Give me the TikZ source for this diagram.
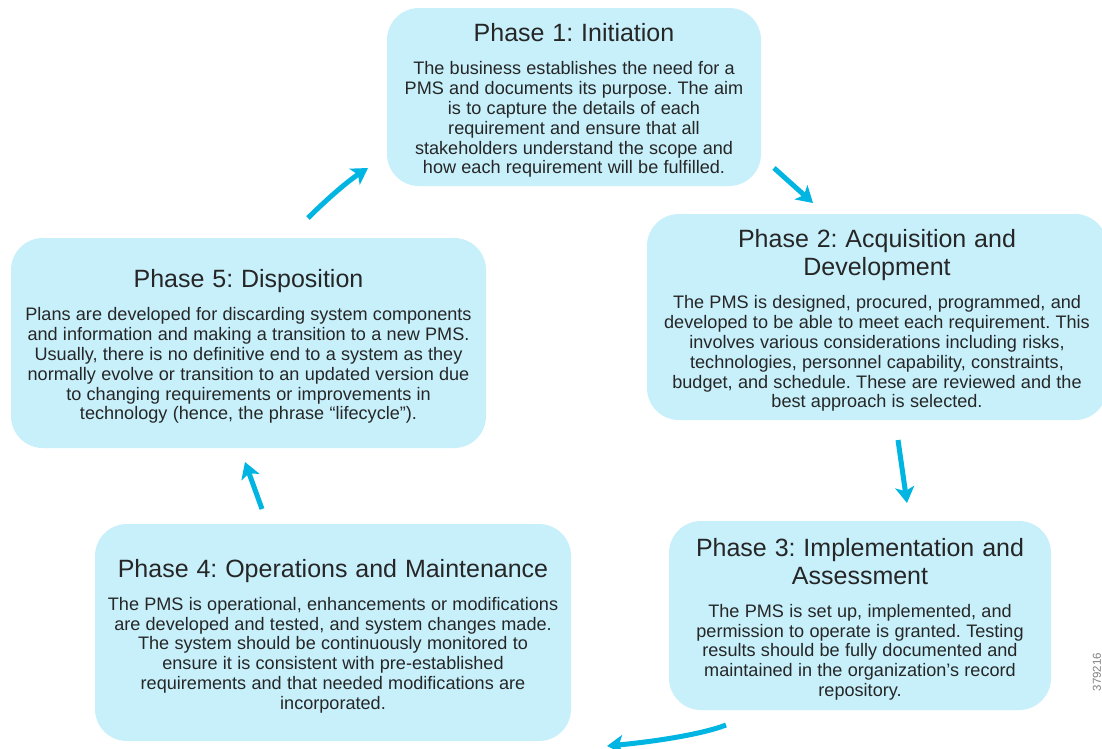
\documentclass[tikz,border=0pt]{standalone}
\usepackage{fontspec}
\setmainfont{Liberation Sans}
\usetikzlibrary{arrows.meta}
\definecolor{boxfill}{RGB}{199,240,251}
\definecolor{flowblue}{RGB}{0,181,226}
\definecolor{txt}{RGB}{38,38,38}
\frenchspacing
\newcommand{\phtitle}[1]{{\fontsize{25}{28}\selectfont\spaceskip=0.315em\relax\rule{0pt}{25.5pt}#1\par}\vspace{13.2pt}}
\newcommand{\phbody}[1]{{\fontsize{18.1}{19.8}\selectfont\spaceskip=0.292em\relax #1\par}}
\tikzset{
  phasebox/.style={fill=boxfill, rounded corners=32pt, inner sep=0pt, align=center, text=txt},
  flow/.style={draw=flowblue, line width=5pt, -{Stealth[length=16pt,width=19pt,inset=4pt]}}
}
\begin{document}
\begin{tikzpicture}[x=1pt,y=-1pt]
\useasboundingbox (0,0) rectangle (1102,748);
\fill[white] (0,0) rectangle (1102,748);

\node[phasebox, text width=374pt, minimum height=178pt] (p1) at (574,97) {%
\phtitle{Phase 1: Initiation}%
\phbody{The business establishes the need for a\\
PMS and documents its purpose. The aim\\
is to capture the details of each\\
requirement and ensure that all\\
stakeholders understand the scope and\\
how each requirement will be fulfilled.}};

\node[phasebox, text width=460pt, minimum height=206pt] (p2) at (877,317) {%
\phtitle{Phase 2: Acquisition and\\Development}%
\phbody{The PMS is designed, procured, programmed, and\\
developed to be able to meet each requirement. This\\
involves various considerations including risks,\\
technologies, personnel capability, constraints,\\
budget, and schedule. These are reviewed and the\\
best approach is selected.}};

\node[phasebox, text width=382pt, minimum height=189pt] (p3) at (860,615.5) {%
\phtitle{Phase 3: Implementation and\\Assessment}%
\phbody{The PMS is set up, implemented, and\\
permission to operate is granted. Testing\\
results should be fully documented and\\
maintained in the organization’s record\\
repository.}};

\node[phasebox, text width=476pt, minimum height=217pt] (p4) at (333,632.5) {%
\phtitle{Phase 4: Operations and Maintenance}%
\phbody{The PMS is operational, enhancements or modifications\\
are developed and tested, and system changes made.\\
The system should be continuously monitored to\\
ensure it is consistent with pre-established\\
requirements and that needed modifications are\\
incorporated.}};

\node[phasebox, text width=475pt, minimum height=210pt] (p5) at (248.5,343) {%
\phtitle{Phase 5: Disposition}%
\phbody{Plans are developed for discarding system components\\
and information and making a transition to a new PMS.\\
Usually, there is no definitive end to a system as they\\
normally evolve or transition to an updated version due\\
to changing requirements or improvements in\\
technology (hence, the phrase “lifecycle”).}};

\node[rotate=90, font=\fontsize{11.5}{12}\selectfont, text=gray] (id) at (1097,672) {379216};

\coordinate (a12s) at (774,168);
\coordinate (a12e) at (813,203);
\coordinate (a23s) at (898,440);
\coordinate (a23e) at (907,503);
\coordinate (a34s) at (726,725);
\coordinate (a34e) at (607,746);
\coordinate (a45s) at (262,509);
\coordinate (a45e) at (245,462);
\coordinate (a51s) at (308,218);
\coordinate (a51e) at (368,168);

\draw[flow] (a12s) -- (a12e);
\draw[flow] (a23s) -- (a23e);
\draw[flow] (a34s) .. controls (700,735) and (650,742) .. (a34e);
\draw[flow] (a45s) -- (a45e);
\draw[flow] (a51s) .. controls (322,204) and (345,183) .. (a51e);
\end{tikzpicture}
\end{document}
